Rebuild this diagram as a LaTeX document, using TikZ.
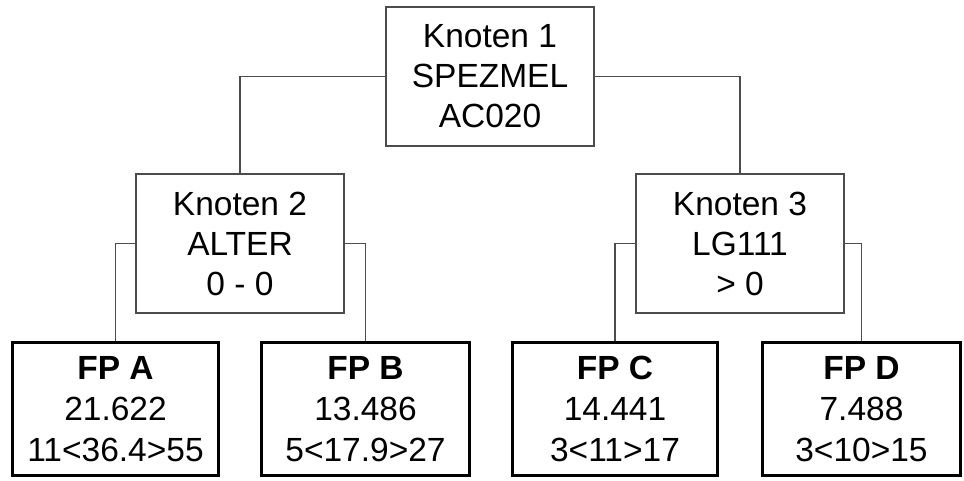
\documentclass[tikz,border=0pt]{standalone}
\usepackage{fontspec}
\setmainfont{Liberation Sans}
\usepackage{tikz}

\begin{document}
\begin{tikzpicture}[x=1pt, y=-1pt,
  knoten/.style={draw=black!70, line width=1.2pt, minimum width=208pt, minimum height=139pt,
    inner sep=0pt, align=center, font=\fontsize{33.5}{40}\selectfont},
  blatt/.style={draw=black, line width=3pt, minimum height=133pt,
    inner sep=0pt, align=center, font=\fontsize{33.5}{41}\selectfont},
  ast/.style={draw=black!70, line width=1.2pt}]
  \useasboundingbox (0,0) rectangle (964,480);
  % inner nodes
  \node[knoten] (k1) at (490,76.5) {Knoten 1\\SPEZMEL\\AC020};
  \node[knoten] (k2) at (240,243.5) {Knoten 2\\ALTER\\0 - 0};
  \node[knoten] (k3) at (740,243.5) {Knoten 3\\LG111\\> 0};
  % leaves
  \node[blatt, minimum width=206pt] (fpa) at (115.5,409) {\textbf{FP A}\\21.622\\11<36.4>55};
  \node[blatt, minimum width=208pt] (fpb) at (365.5,409) {\textbf{FP B}\\13.486\\5<17.9>27};
  \node[blatt, minimum width=205pt] (fpc) at (615,409) {\textbf{FP C}\\14.441\\3<11>17};
  \node[blatt, minimum width=198pt] (fpd) at (861.5,409) {\textbf{FP D}\\7.488\\3<10>15};
  % branches
  \draw[ast] (k1.west) -| (k2.north);
  \draw[ast] (k1.east) -| (k3.north);
  \draw[ast] (k2.west) -| (fpa.north);
  \draw[ast] (k2.east) -| (fpb.north);
  \draw[ast] (k3.west) -| (fpc.north);
  \draw[ast] (k3.east) -| (fpd.north);
\end{tikzpicture}
\end{document}
